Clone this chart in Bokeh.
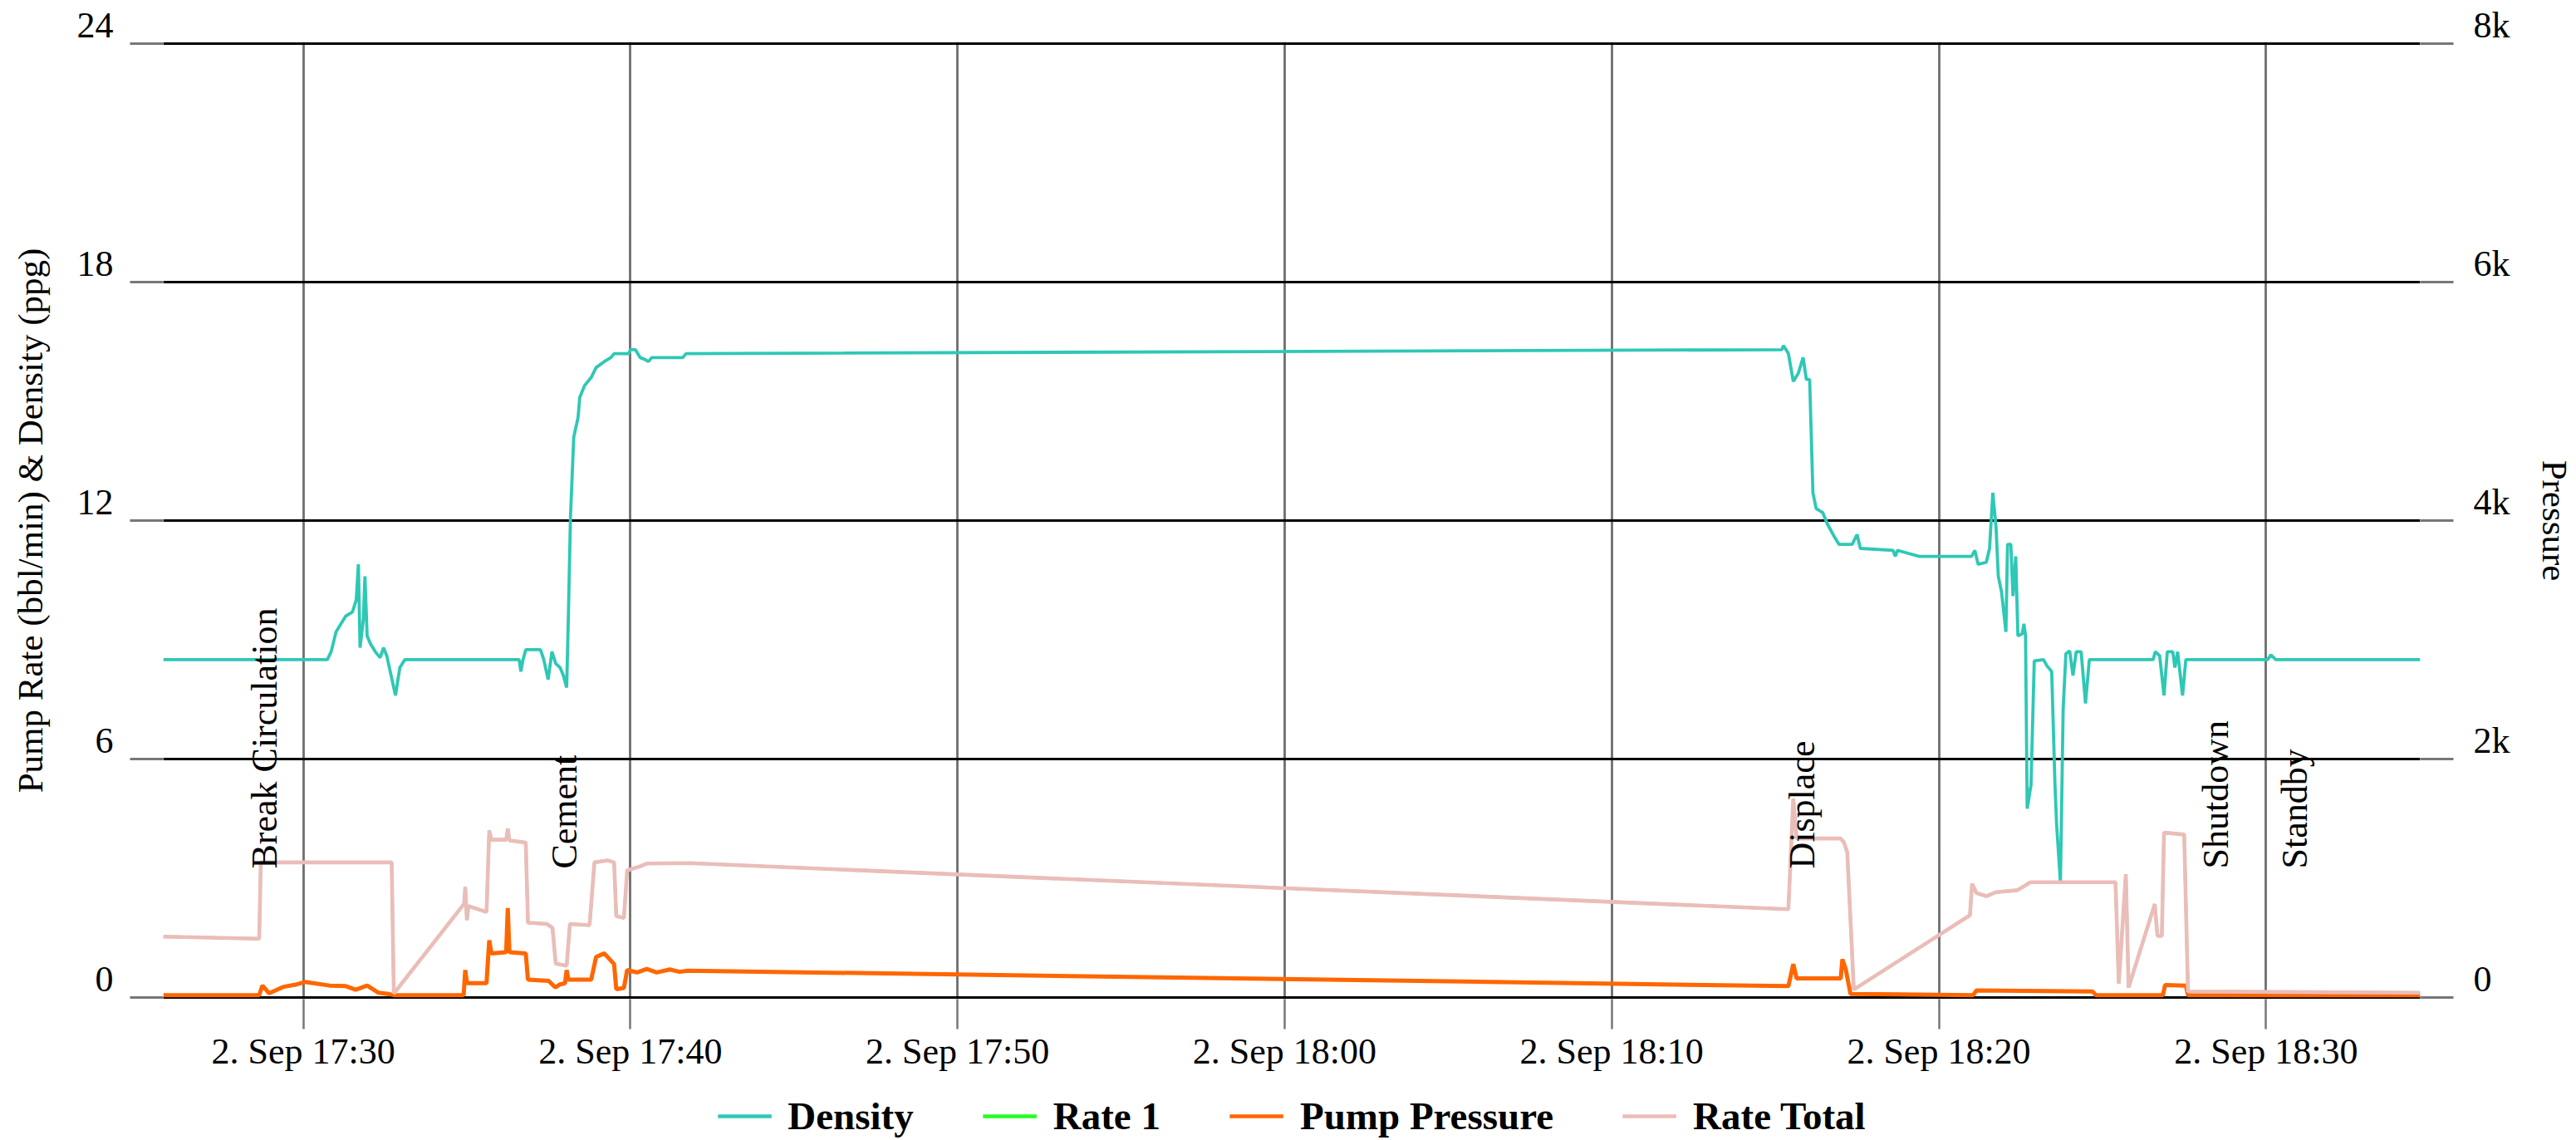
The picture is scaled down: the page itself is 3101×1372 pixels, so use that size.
from math import pi
import pandas as pd
from bokeh.plotting import figure
from bokeh.layouts import column
from bokeh.models import Range1d, LinearAxis, FixedTicker, Legend, LegendItem
from bokeh.core.properties import value
from bokeh.embed import file_html
from bokeh.resources import INLINE

DAY = "2023-09-02"

density_time = ["17:25:43", "17:30:44", "17:30:51", "17:31:00", "17:31:09", "17:31:18", "17:31:30", "17:31:37",
                "17:31:41", "17:31:44", "17:31:50", "17:31:53", "17:31:57", "17:32:03", "17:32:12", "17:32:21",
                "17:32:27", "17:32:33", "17:32:49", "17:32:57", "17:33:06", "17:36:36", "17:36:39", "17:36:43",
                "17:36:48", "17:37:15", "17:37:21", "17:37:29", "17:37:36", "17:37:43", "17:37:51", "17:37:57",
                "17:38:03", "17:38:06", "17:38:10", "17:38:16", "17:38:24", "17:38:27", "17:38:36", "17:38:48",
                "17:38:57", "17:39:12", "17:39:24", "17:39:30", "17:39:57", "17:40:00", "17:40:09", "17:40:18",
                "17:40:27", "17:40:33", "17:40:39", "17:41:36", "17:41:42", "18:15:12", "18:15:15", "18:15:24",
                "18:15:33", "18:15:42", "18:15:51", "18:15:57", "18:16:03", "18:16:09", "18:16:15", "18:16:27",
                "18:16:36", "18:16:48", "18:16:57", "18:17:21", "18:17:30", "18:17:36", "18:18:36", "18:18:40",
                "18:18:44", "18:19:24", "18:21:00", "18:21:06", "18:21:12", "18:21:27", "18:21:33", "18:21:39",
                "18:21:45", "18:21:49", "18:21:55", "18:22:03", "18:22:06", "18:22:12", "18:22:16", "18:22:21",
                "18:22:25", "18:22:33", "18:22:36", "18:22:39", "18:22:42", "18:22:49", "18:22:55", "18:23:12",
                "18:23:18", "18:23:27", "18:23:33", "18:23:36", "18:23:43", "18:23:48", "18:23:53", "18:24:00",
                "18:24:06", "18:24:12", "18:24:21", "18:24:29", "18:24:36", "18:26:33", "18:26:37", "18:26:45",
                "18:26:53", "18:26:59", "18:27:09", "18:27:13", "18:27:18", "18:27:27", "18:27:33", "18:30:03",
                "18:30:09", "18:30:18", "18:34:43"]
density_ppg = [8.5, 8.5, 8.7, 9.2, 9.4, 9.6, 9.7, 10.0,
               10.9, 8.8, 9.5, 10.6, 9.1, 8.9, 8.7, 8.55,
               8.8, 8.6, 7.6, 8.3, 8.5, 8.5, 8.2, 8.5,
               8.75, 8.75, 8.5, 8.0, 8.7, 8.4, 8.3, 8.1,
               7.8, 9.5, 12.1, 14.1, 14.6, 15.1, 15.4, 15.6,
               15.85, 16.0, 16.1, 16.2, 16.2, 16.3, 16.3, 16.1,
               16.05, 16.0, 16.1, 16.1, 16.2, 16.3, 16.4, 16.2,
               15.5, 15.7, 16.1, 15.55, 15.55, 12.7, 12.3, 12.2,
               11.9, 11.6, 11.4, 11.4, 11.65, 11.3, 11.25, 11.1,
               11.25, 11.1, 11.1, 11.25, 10.9, 10.95, 11.3, 12.7,
               11.8, 10.6, 10.2, 9.2, 11.4, 11.4, 10.1, 11.1,
               9.1, 9.15, 9.4, 9.1, 4.75, 5.35, 8.47, 8.5,
               8.35, 8.2, 5.35, 4.35, 2.9, 7.25, 8.65, 8.72,
               8.1, 8.7, 8.7, 7.4, 8.5, 8.5, 8.7, 8.6,
               7.6, 8.7, 8.7, 8.3, 8.7, 7.6, 8.5, 8.5,
               8.62, 8.5, 8.5]

rate_time = ["17:25:43", "17:28:39", "17:28:42", "17:32:42", "17:32:46", "17:34:55", "17:34:57", "17:35:00",
             "17:35:03", "17:35:36", "17:35:41", "17:35:45", "17:36:12", "17:36:15", "17:36:18", "17:36:48",
             "17:36:52", "17:37:27", "17:37:37", "17:37:43", "17:38:03", "17:38:09", "17:38:45", "17:38:54",
             "17:39:18", "17:39:30", "17:39:34", "17:39:48", "17:39:54", "17:40:18", "17:40:30", "17:41:48",
             "18:15:24", "18:15:33", "18:15:39", "18:17:00", "18:17:06", "18:17:12", "18:17:24", "18:20:57",
             "18:21:01", "18:21:09", "18:21:27", "18:21:45", "18:22:24", "18:22:42", "18:22:48", "18:25:24",
             "18:25:30", "18:25:43", "18:25:48", "18:26:36", "18:26:41", "18:26:49", "18:26:53", "18:27:30",
             "18:27:37", "18:34:43"]
rate_1_bpm = [1.53, 1.48, 3.4, 3.4, 0.1, 2.36, 2.78, 1.95,
              2.3, 2.15, 4.2, 3.97, 3.97, 4.25, 3.95, 3.9,
              1.88, 1.85, 1.75, 0.85, 0.8, 1.85, 1.82, 3.4,
              3.45, 3.4, 2.05, 2.0, 3.2, 3.3, 3.37, 3.38,
              2.22, 5.0, 4.0, 4.0, 3.9, 3.65, 0.2, 2.07,
              2.86, 2.63, 2.55, 2.65, 2.7, 2.85, 2.9, 2.9,
              0.35, 3.1, 0.25, 2.35, 1.55, 1.55, 4.15, 4.1,
              0.15, 0.12]
rate_total_bpm = [1.53, 1.48, 3.4, 3.4, 0.1, 2.36, 2.78, 1.95,
                  2.3, 2.15, 4.2, 3.97, 3.97, 4.25, 3.95, 3.9,
                  1.88, 1.85, 1.75, 0.85, 0.8, 1.85, 1.82, 3.4,
                  3.45, 3.4, 2.05, 2.0, 3.2, 3.3, 3.37, 3.38,
                  2.22, 5.0, 4.0, 4.0, 3.9, 3.65, 0.2, 2.07,
                  2.86, 2.63, 2.55, 2.65, 2.7, 2.85, 2.9, 2.9,
                  0.35, 3.1, 0.25, 2.35, 1.55, 1.55, 4.15, 4.1,
                  0.15, 0.12]

pressure_time = ["17:25:43", "17:28:39", "17:28:45", "17:28:57", "17:29:24", "17:29:48", "17:30:03", "17:30:48",
                 "17:31:18", "17:31:36", "17:31:57", "17:32:18", "17:32:36", "17:32:46", "17:34:54", "17:34:57",
                 "17:35:00", "17:35:36", "17:35:41", "17:35:45", "17:36:12", "17:36:15", "17:36:18", "17:36:48",
                 "17:36:52", "17:37:30", "17:37:42", "17:37:51", "17:38:00", "17:38:03", "17:38:06", "17:38:48",
                 "17:38:57", "17:39:12", "17:39:30", "17:39:34", "17:39:48", "17:39:54", "17:40:12", "17:40:30",
                 "17:40:48", "17:41:12", "17:41:30", "17:41:45", "18:15:24", "18:15:33", "18:15:39", "18:17:00",
                 "18:17:03", "18:17:09", "18:17:18", "18:21:03", "18:21:09", "18:24:42", "18:24:48", "18:26:51",
                 "18:26:55", "18:27:33", "18:27:37", "18:34:43"]
pressure_psi = [20, 20, 100, 35, 90, 110, 130, 100,
                95, 65, 100, 40, 30, 20, 20, 230,
                120, 120, 480, 370, 380, 750, 380, 370,
                150, 140, 85, 110, 120, 230, 150, 150,
                340, 370, 280, 70, 80, 230, 210, 240,
                210, 235, 215, 225, 95, 280, 160, 160,
                320, 240, 30, 20, 60, 50, 20, 20,
                105, 100, 20, 20]

event_time = ["17:29:13", "17:38:24", "18:16:13", "18:28:53", "18:31:18"]
event_label = ["Break Circulation", "Cement", "Displace", "Shutdown", "Standby"]

x_tick_time = ["17:30", "17:40", "17:50", "18:00", "18:10", "18:20", "18:30"]
x_tick_label = ["2. Sep 17:30", "2. Sep 17:40", "2. Sep 17:50", "2. Sep 18:00",
                "2. Sep 18:10", "2. Sep 18:20", "2. Sep 18:30"]
left_ticks = [0, 6, 12, 18, 24]
left_tick_labels = ["0", "6", "12", "18", "24"]
right_ticks = [0, 2000, 4000, 6000, 8000]
right_tick_labels = ["0", "2k", "4k", "6k", "8k"]
x_start, x_end = "17:25:43", "18:34:43"

series_names = ["Density", "Rate 1", "Pump Pressure", "Rate Total"]
series_colors = ["#2ec8b5", "#22ff22", "#ff6600", "#ebbdb9"]
series_widths = [3.8, 3.6, 5, 4.6]
KEY_WIDTH = 4.6


def to_ms(t):
    return int(pd.Timestamp(f"{DAY} {t}").value // 10**6)


def ms_list(ts):
    return [to_ms(t) for t in ts]


FONT = "Liberation Serif"
xs, xe = to_ms(x_start), to_ms(x_end)

W = 3101
MAIN_H, LEG_H = 1312, 60
# 2 px of room above 24 and below 0 so that the edge grid lines are drawn whole
LEFT_MAX, RIGHT_MAX = 24.0, 8000.0
pad = 2.0 / 1148.0 * LEFT_MAX
rpad = pad / LEFT_MAX * RIGHT_MAX

p = figure(width=W, height=MAIN_H, x_axis_type="datetime",
           x_range=Range1d(xs, xe), y_range=Range1d(-pad, LEFT_MAX + pad),
           output_backend="svg", toolbar_location=None,
           min_border_left=196, min_border_right=186, min_border_top=50, min_border_bottom=110,
           outline_line_color=None, background_fill_color="white", border_fill_color="white")
p.extra_y_ranges = {"pressure": Range1d(-rpad, RIGHT_MAX + rpad)}
right_axis = LinearAxis(y_range_name="pressure", ticker=FixedTicker(ticks=right_ticks))
p.add_layout(right_axis, "right")

# x axis
x_ticks = ms_list(x_tick_time)
p.xaxis.ticker = FixedTicker(ticks=x_ticks)
p.xaxis.major_label_overrides = {k: v for k, v in zip(x_ticks, x_tick_label)}
p.xaxis.major_label_text_font = FONT
p.xaxis.major_label_text_font_size = "44px"
p.xaxis.major_label_text_color = "black"
p.xaxis.major_label_standoff = 2
p.xaxis.major_tick_out = 36
p.xaxis.major_tick_in = 0
p.xaxis.major_tick_line_color = "#777777"
p.xaxis.major_tick_line_width = 2.5
p.xaxis.minor_tick_line_color = None
p.xaxis.axis_line_color = None

# y axes (labels sit just above their grid line: a trailing empty line lifts them)
left_axis = p.yaxis[0]
left_axis.ticker = FixedTicker(ticks=left_ticks)
left_axis.major_label_overrides = {v: s + "\n" for v, s in zip(left_ticks, left_tick_labels)}
left_axis.major_label_standoff = 20
left_axis.axis_label = "Pump Rate (bbl/min) & Density (ppg)"
left_axis.axis_label_standoff = 30
right_axis.major_label_overrides = {v: s + "\n" for v, s in zip(right_ticks, right_tick_labels)}
right_axis.major_label_standoff = 24
right_axis.axis_label = "Pressure"
right_axis.axis_label_standoff = 27
for ax in (left_axis, right_axis):
    ax.major_tick_out = 40
    ax.major_tick_in = 0
    ax.major_tick_line_color = "#777777"
    ax.major_tick_line_width = 3
    ax.minor_tick_line_color = None
    ax.axis_line_color = None
    ax.major_label_text_font = FONT
    ax.major_label_text_font_size = "44px"
    ax.major_label_text_line_height = 0.9
    ax.major_label_text_color = "black"
    ax.axis_label_text_font = FONT
    ax.axis_label_text_font_size = "43px"
    ax.axis_label_text_font_style = "normal"
    ax.axis_label_text_color = "black"

p.xgrid.grid_line_color = "#6e6e6e"
p.xgrid.grid_line_width = 2.8
p.ygrid.grid_line_color = "black"
p.ygrid.grid_line_width = 3

p.line(ms_list(density_time), density_ppg, line_color=series_colors[0], line_width=series_widths[0])
p.line(ms_list(rate_time), rate_1_bpm, line_color=series_colors[1], line_width=series_widths[1])
p.line(ms_list(pressure_time), pressure_psi, line_color=series_colors[2], line_width=series_widths[2],
       y_range_name="pressure")
p.line(ms_list(rate_time), rate_total_bpm, line_color=series_colors[3], line_width=series_widths[3])

# event labels (rotated, reading upwards, set just left of their time)
p.text(x=ms_list(event_time), y=[3.24] * len(event_time), text=event_label, angle=pi / 2,
       x_offset=-16, text_align="left", text_baseline="alphabetic", text_font=value(FONT),
       text_font_size="44px", text_color="black")

# legend strip under the chart (its own frame, so nothing is clipped away)
leg = figure(width=W, height=LEG_H, output_backend="svg", toolbar_location=None,
             x_axis_location=None, y_axis_location=None, x_range=Range1d(0, 1), y_range=Range1d(0, 1),
             min_border_left=0, min_border_right=0, min_border_top=0, min_border_bottom=0,
             outline_line_color=None, background_fill_color="white", border_fill_color="white")
leg.grid.grid_line_color = None
# legend keys only: lines placed outside the strip's visible range
key_renderers = [leg.line(x=[0, 1], y=[-5, -5], line_color=c, line_width=KEY_WIDTH)
                 for c in series_colors]
legend = Legend(items=[LegendItem(label=n, renderers=[r]) for n, r in zip(series_names, key_renderers)],
                location="top_center", orientation="horizontal",
                label_text_font=FONT, label_text_font_style="bold", label_text_font_size="47px",
                label_text_color="black", glyph_width=65, glyph_height=52, label_height=52,
                label_standoff=20, spacing=83, padding=0, margin=4,
                background_fill_alpha=0, border_line_alpha=0)
leg.add_layout(legend)

open("out.html", "w").write(file_html(column(p, leg, spacing=0), INLINE))
